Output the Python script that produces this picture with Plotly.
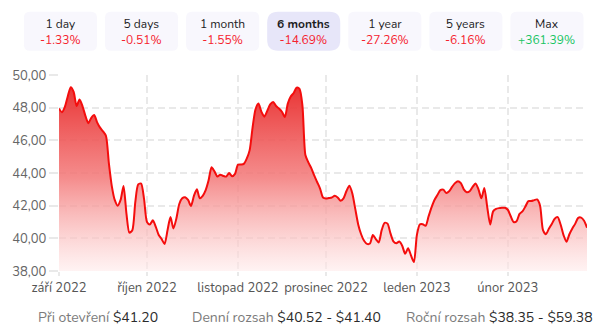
import datetime as dt
import plotly.graph_objects as go

# ---- data -----------------------------------------------------------------
start_date = dt.date(2022, 9, 1)
# daily closing price (USD), 1 Sep 2022 - 28 Feb 2023
prices = [
    47.95, 47.72, 48.05, 48.70, 49.25, 48.96, 48.10, 48.50, 48.10, 47.50,
    47.05, 47.38, 47.55, 47.10, 46.78, 46.55, 46.28, 44.60, 43.20, 42.35,
    42.00, 42.35, 43.20, 41.50, 40.35, 40.50, 42.20, 43.30, 43.35, 42.40,
    41.00, 40.85, 41.10, 40.70, 40.20, 39.95, 39.66, 40.50, 41.30, 40.60,
    41.20, 42.10, 42.45, 42.52, 42.35, 41.98, 42.60, 43.00, 42.45, 42.60,
    42.95, 43.55, 44.35, 44.10, 43.78, 43.90, 43.82, 43.78, 44.00, 43.80,
    43.95, 44.50, 44.52, 44.56, 44.88, 45.40, 46.80, 47.90, 48.25, 47.75,
    47.45, 47.80, 48.20, 48.35, 48.10, 47.95, 47.75, 47.43, 48.25, 48.68,
    48.90, 49.22, 49.15, 48.10, 45.10, 44.65, 44.30, 43.85, 43.45, 43.05,
    42.50, 42.44, 42.47, 42.50, 42.60, 42.50, 42.30, 42.45, 42.90, 43.22,
    42.75, 41.80, 40.85, 40.25, 39.85, 39.66, 39.68, 40.20, 39.95, 39.75,
    40.50, 40.95, 40.90, 40.30, 39.82, 39.70, 39.80, 39.55, 39.05, 39.39,
    38.95, 38.55, 40.20, 40.85, 40.86, 40.77, 41.35, 41.90, 42.35, 42.65,
    42.95, 42.98, 42.78, 42.88, 43.15, 43.38, 43.50, 43.38, 43.00, 42.82,
    42.88, 43.15, 43.36, 43.00, 42.45, 43.08, 41.90, 40.85, 41.65, 41.80,
    41.85, 41.87, 41.87, 41.75, 41.35, 41.00, 41.05, 41.50, 41.65, 41.95,
    42.28, 42.28, 42.34, 42.38, 42.00, 40.50, 40.25, 40.58, 40.88, 41.20,
    41.30, 40.85, 40.20, 39.79, 40.25, 40.60, 40.90, 41.25, 41.27, 41.08,
    40.65,
]
dates = [start_date + dt.timedelta(days=i) for i in range(len(prices))]

month_ticks = [dt.date(2022, 9, 1), dt.date(2022, 10, 1), dt.date(2022, 11, 1),
               dt.date(2022, 12, 1), dt.date(2023, 1, 1), dt.date(2023, 2, 1)]
month_labels = ["září 2022", "říjen 2022", "listopad 2022",
                "prosinec 2022", "leden 2023", "únor 2023"]
y_ticks = [38, 40, 42, 44, 46, 48, 50]

periods = ["1 day", "5 days", "1 month", "6 months", "1 year", "5 years", "Max"]
period_changes = [-1.33, -0.51, -1.55, -14.69, -27.26, -6.16, 361.39]
selected_period = "6 months"

open_price = 41.20
day_range = (40.52, 41.40)
year_range = (38.35, 59.38)

# ---- layout geometry (pixels) --------------------------------------------
W, H = 600, 336
ML, MR, MT, MB = 56, 13, 75, 65
PW, PH = W - ML - MR, H - MT - MB


def px_x(x):
    return (x - ML) / PW


def px_y(y):
    return 1 - (y - MT) / PH


def rounded_rect(x0, y0, x1, y1, r):
    """SVG path of a rounded rectangle, pixel input -> paper coords."""
    pts = [
        ("M", x0 + r, y0), ("L", x1 - r, y0), ("Q", x1, y0, x1, y0 + r),
        ("L", x1, y1 - r), ("Q", x1, y1, x1 - r, y1), ("L", x0 + r, y1),
        ("Q", x0, y1, x0, y1 - r), ("L", x0, y0 + r), ("Q", x0, y0, x0 + r, y0),
    ]
    out = []
    for p in pts:
        cmd, coords = p[0], p[1:]
        conv = []
        for i in range(0, len(coords), 2):
            conv.append(f"{px_x(coords[i]):.5f},{px_y(coords[i + 1]):.5f}")
        out.append(cmd + " ".join(conv))
    return " ".join(out) + " Z"


FONT = "Nunito, Lato, 'Open Sans', sans-serif"

fig = go.Figure()
fig.add_trace(go.Scatter(
    x=dates, y=prices, mode="lines",
    line=dict(color="#f40d0d", width=2, shape="spline", smoothing=0.7),
    fill="tozeroy",
    fillgradient=dict(
        type="vertical", start=38, stop=49.4,
        colorscale=[[0, "rgba(255,235,235,0.6)"],
                    [0.5, "rgba(243,120,120,0.85)"],
                    [1, "rgba(232,40,40,0.95)"]],
    ),
    hoverinfo="skip", showlegend=False,
))

grid = dict(showgrid=True, gridcolor="#e9e9e9", gridwidth=1.5, griddash="7px,4px")

fig.update_xaxes(
    type="date", range=[dates[0], dates[-1]],
    tickvals=month_ticks, ticktext=month_labels,
    ticks="outside", ticklen=4, tickcolor="#e9e9e9", tickwidth=1.5,
    tickfont=dict(family=FONT, size=13, color="#555555"),
    showline=False, zeroline=False, **grid,
)
fig.update_yaxes(
    range=[38, 50], tickvals=y_ticks, tickformat=".2f",
    ticks="outside", ticklen=9, tickcolor="#e9e9e9", tickwidth=1.5,
    tickfont=dict(family=FONT, size=13, color="#666666"),
    showline=False, zeroline=False, **grid,
)

shapes = []
annotations = []
btn_x0, btn_step, btn_w = 20.7, 81.55, 73.5
btn_top, btn_bot = 11.7, 50.7
for i, (name, chg) in enumerate(zip(periods, period_changes)):
    x0 = btn_x0 + i * btn_step
    sel = name == selected_period
    shapes.append(dict(
        type="path", xref="paper", yref="paper",
        path=rounded_rect(x0, btn_top, x0 + btn_w, btn_bot, 11 if sel else 6),
        fillcolor="#e7e6f9" if sel else "#f8f7fd", line=dict(width=0),
        layer="below",
    ))
    title = f"<b>{name}</b>" if sel else name
    pct_color = "#19c463" if chg > 0 else "#f5222d"
    annotations.append(dict(
        x=px_x(x0 + btn_w / 2), y=px_y(32), xref="paper", yref="paper",
        showarrow=False,
        text=f"{title}<br><span style='color:{pct_color}'>{chg:+.2f}%</span>",
        font=dict(family=FONT, size=12, color="#1d1d1f"),
        xanchor="center", yanchor="middle", align="center",
    ))

stats = [
    (33, "Při otevření", f"${open_price:.2f}"),
    (188, "Denní rozsah", f"${day_range[0]:.2f} - ${day_range[1]:.2f}"),
    (403, "Roční rozsah", f"${year_range[0]:.2f} - ${year_range[1]:.2f}"),
]
for x, label, value in stats:
    annotations.append(dict(
        x=px_x(x), y=px_y(317), xref="paper", yref="paper", showarrow=False,
        text=f"<span style='color:#7b7b7b'>{label}</span> "
             f"<span style='color:#2b2b2b'>{value}</span>",
        font=dict(family=FONT, size=14),
        xanchor="left", yanchor="middle",
    ))

fig.update_layout(
    width=W, height=H,
    margin=dict(l=ML, r=MR, t=MT, b=MB, pad=0),
    paper_bgcolor="white", plot_bgcolor="white",
    separators=",.",
    shapes=shapes, annotations=annotations,
    font=dict(family=FONT),
)

fig.write_html("out.html", config={"displayModeBar": False})
